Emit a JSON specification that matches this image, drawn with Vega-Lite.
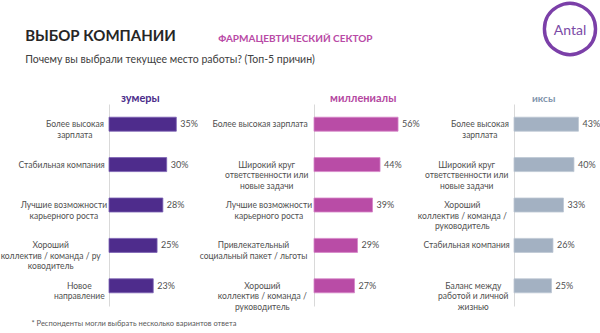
{
  "$schema": "https://vega.github.io/schema/vega-lite/v6.json",
  "background": "white",
  "padding": {"left": 0, "top": 0, "right": 0, "bottom": 0},
  "config": {
    "font": "Lato",
    "view": {"stroke": null},
    "axis": {"grid": false}
  },
  "datasets": {
    "zoomers": [
      {"reason": "Более высокая|зарплата", "pct": 0.35},
      {"reason": "Стабильная компания", "pct": 0.30},
      {"reason": "Лучшие возможности|карьерного роста", "pct": 0.28},
      {"reason": "Хороший|коллектив / команда / ру|ководитель", "pct": 0.25},
      {"reason": "Новое|направление", "pct": 0.23}
    ],
    "millennials": [
      {"reason": "Более высокая зарплата", "pct": 0.56},
      {"reason": "Широкий круг|ответственности или|новые задачи", "pct": 0.44},
      {"reason": "Лучшие возможности|карьерного роста", "pct": 0.39},
      {"reason": "Привлекательный|социальный пакет / льготы", "pct": 0.29},
      {"reason": "Хороший|коллектив / команда /|руководитель", "pct": 0.27}
    ],
    "genx": [
      {"reason": "Более высокая|зарплата", "pct": 0.43},
      {"reason": "Широкий круг|ответственности или|новые задачи", "pct": 0.40},
      {"reason": "Хороший|коллектив / команда /|руководитель", "pct": 0.33},
      {"reason": "Стабильная компания", "pct": 0.26},
      {"reason": "Баланс между|работой и личной|жизнью", "pct": 0.25}
    ]
  },
  "title": {
    "text": "ВЫБОР КОМПАНИИ",
    "subtitle": "Почему вы выбрали текущее место работы? (Топ-5 причин)",
    "anchor": "start",
    "dx": 25,
    "offset": -65,
    "font": "Lato",
    "fontSize": 15,
    "fontWeight": "bold",
    "color": "#262626",
    "subtitleFont": "Lato",
    "subtitleFontSize": 10.5,
    "subtitleColor": "#404040",
    "subtitlePadding": 11
  },
  "vconcat": [
    {
      "title": {
        "text": "◯",
        "subtitle": "Antal",
        "anchor": "end",
        "align": "center",
        "dx": -32,
        "offset": -20,
        "font": "DejaVu Sans",
        "fontSize": 54,
        "fontWeight": "normal",
        "color": "#7B3FA8",
        "subtitleFont": "Lato",
        "subtitleFontSize": 14,
        "subtitleColor": "#7A4AA6",
        "subtitlePadding": -30
      },
      "vconcat": [
        {
          "title": {
            "text": "ФАРМАЦЕВТИЧЕСКИЙ СЕКТОР",
            "anchor": "start",
            "dx": 218,
            "dy": -49,
            "offset": 0,
            "font": "Lato",
            "fontSize": 10,
            "fontWeight": "bold",
            "color": "#B94AA6"
          },
          "bounds": "flush",
          "spacing": 105,
          "hconcat": [
            {
              "width": 100,
              "height": 202,
              "data": {"name": "zoomers"},
              "title": {"text": "зумеры", "anchor": "start", "frame": "group", "dx": 12, "offset": 0, "fontSize": 11, "fontWeight": "bold", "color": "#4B2C8A"},
              "encoding": {
                "y": {
                  "field": "reason", "type": "nominal", "sort": null,
                  "scale": {"paddingInner": 0, "paddingOuter": 0},
                  "axis": {"title": null, "ticks": false, "labelAlign": "center", "labelExpr": "split(datum.label, '|')", "labelFontSize": 8.5, "labelColor": "#505050", "labelLineHeight": 10.5, "domainColor": "#D9D9D9", "labelLimit": 0,
                    "labelPadding": {"expr": "6 + 2.2*max(length(split(datum.value,'|')[0]), length(split(datum.value,'|')[1] || ''), length(split(datum.value,'|')[2] || ''))"}}
                },
                "x": {
                  "field": "pct", "type": "quantitative",
                  "scale": {"domain": [0, 0.52]},
                  "axis": {"orient": "bottom", "labels": false, "ticks": false, "domain": false, "title": "* Респонденты могли выбрать несколько вариантов ответа", "titleX": -78, "titleY": 13, "titleAlign": "left", "titleAnchor": "start", "titleBaseline": "top", "titleFontSize": 7.5, "titleFontWeight": "normal", "titleColor": "#595959"}
                }
              },
              "layer": [
                {"mark": {"type": "bar", "size": 14, "color": "#4E2C8C", "stroke": "#7A5FB3", "strokeWidth": 0.8}},
                {"mark": {"type": "text", "align": "left", "dx": 4, "fontSize": 9, "color": "#505050"}, "encoding": {"text": {"field": "pct", "format": ".0%"}}}
              ]
            },
            {
              "width": 95,
              "height": 202,
              "data": {"name": "millennials"},
              "title": {"text": "миллениалы", "anchor": "start", "frame": "group", "dx": 16, "offset": 0, "fontSize": 11, "fontWeight": "bold", "color": "#B4479F"},
              "encoding": {
                "y": {
                  "field": "reason", "type": "nominal", "sort": null,
                  "scale": {"paddingInner": 0, "paddingOuter": 0},
                  "axis": {"title": null, "ticks": false, "labelAlign": "center", "labelExpr": "split(datum.label, '|')", "labelFontSize": 8.5, "labelColor": "#505050", "labelLineHeight": 10.5, "domainColor": "#D9D9D9", "labelLimit": 0,
                    "labelPadding": {"expr": "6 + 2.2*max(length(split(datum.value,'|')[0]), length(split(datum.value,'|')[1] || ''), length(split(datum.value,'|')[2] || ''))"}}
                },
                "x": {"field": "pct", "type": "quantitative", "scale": {"domain": [0, 0.633]}, "axis": null}
              },
              "layer": [
                {"mark": {"type": "bar", "size": 14, "color": "#B94CA6", "stroke": "#D585C8", "strokeWidth": 0.8}},
                {"mark": {"type": "text", "align": "left", "dx": 4, "fontSize": 9, "color": "#505050"}, "encoding": {"text": {"field": "pct", "format": ".0%"}}}
              ]
            },
            {
              "width": 88,
              "height": 202,
              "data": {"name": "genx"},
              "title": {"text": "иксы", "anchor": "start", "frame": "group", "dx": 18, "offset": 0, "fontSize": 10, "fontWeight": "bold", "color": "#8194AC"},
              "encoding": {
                "y": {
                  "field": "reason", "type": "nominal", "sort": null,
                  "scale": {"paddingInner": 0, "paddingOuter": 0},
                  "axis": {"title": null, "ticks": false, "labelAlign": "center", "labelExpr": "split(datum.label, '|')", "labelFontSize": 8.5, "labelColor": "#505050", "labelLineHeight": 10.5, "domainColor": "#D9D9D9", "labelLimit": 0,
                    "labelPadding": {"expr": "6 + 2.2*max(length(split(datum.value,'|')[0]), length(split(datum.value,'|')[1] || ''), length(split(datum.value,'|')[2] || ''))"}}
                },
                "x": {"field": "pct", "type": "quantitative", "scale": {"domain": [0, 0.587]}, "axis": null}
              },
              "layer": [
                {"mark": {"type": "bar", "size": 14, "color": "#A3B1C2", "stroke": "#BCC7D3", "strokeWidth": 0.8}},
                {"mark": {"type": "text", "align": "left", "dx": 4, "fontSize": 9, "color": "#505050"}, "encoding": {"text": {"field": "pct", "format": ".0%"}}}
              ]
            }
          ]
        }
      ]
    }
  ]
}
